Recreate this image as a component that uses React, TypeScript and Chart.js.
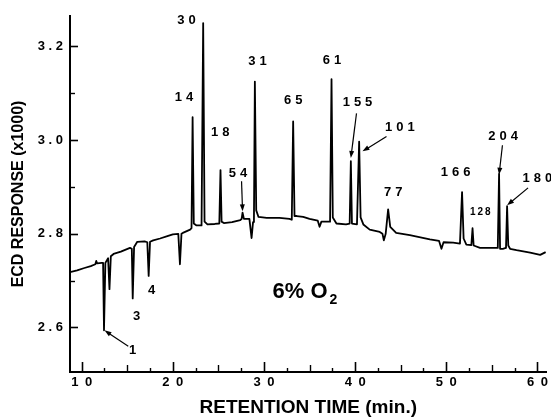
import { useEffect, useRef } from 'react';
import { Chart, registerables } from 'chart.js';

Chart.register(...registerables);

// Chromatogram trace
const retentionTime = [
  8.72, 9.5, 10.3, 11.0, 11.5, 11.6, 11.7, 12.2, 12.35, 12.45, 12.6, 12.9, 13.05, 13.2, 13.5, 14.3,
  15.3, 15.5, 15.6, 15.75, 16.1, 16.9, 17.2, 17.35, 17.5, 17.85, 18.6, 19.4, 20.0, 20.6, 20.78, 20.95,
  21.1, 21.9, 22.05, 22.17, 22.3, 22.6, 23.15, 23.33, 23.48, 23.8, 24.6, 25.1, 25.23, 25.35, 25.6,
  26.5, 27.4, 27.55, 27.65, 27.8, 28.4, 28.64, 28.8, 28.9, 29.0, 29.15, 29.4, 30.3, 31.7, 32.8, 33.05,
  33.2, 33.35, 33.6, 34.3, 35.0, 35.9, 36.1, 36.3, 36.9, 37.25, 37.41, 37.55, 37.95, 39.0, 39.4, 39.53,
  39.65, 40.2, 40.44, 40.6, 40.9, 41.6, 42.7, 43.0, 43.15, 43.35, 43.62, 43.85, 44.5, 46.0, 48.2, 49.2,
  49.47, 49.7, 50.75, 51.5, 51.73, 51.9, 52.2, 52.75, 52.88, 53.0, 53.7, 55.5, 55.65, 55.79, 55.9, 56.2,
  56.55, 56.67, 56.8, 57.0, 57.7, 59.2, 60.3, 60.9,
];
const ecdResponse = [
  2.718, 2.722, 2.727, 2.731, 2.735, 2.742, 2.737, 2.738, 2.738, 2.594, 2.738, 2.748, 2.682, 2.752, 2.757, 2.762,
  2.770, 2.768, 2.662, 2.772, 2.783, 2.784, 2.782, 2.71, 2.783, 2.786, 2.790, 2.795, 2.799, 2.800, 2.735, 2.800,
  2.802, 2.809, 2.812, 3.049, 2.822, 2.818, 2.818, 3.250, 2.826, 2.820, 2.821, 2.822, 2.936, 2.826, 2.823,
  2.825, 2.829, 2.832, 2.845, 2.832, 2.832, 2.791, 2.825, 2.830, 3.125, 2.850, 2.836, 2.834, 2.834, 2.832, 2.830,
  3.040, 2.838, 2.838, 2.836, 2.832, 2.828, 2.815, 2.826, 2.826, 2.826, 3.130, 2.835, 2.822, 2.820, 2.822, 2.955,
  2.822, 2.820, 2.997, 2.835, 2.820, 2.809, 2.804, 2.800, 2.786, 2.800, 2.852, 2.815, 2.802, 2.797, 2.788, 2.785,
  2.768, 2.782, 2.781, 2.779, 2.889, 2.790, 2.777, 2.776, 2.812, 2.775, 2.770, 2.770, 2.770, 2.928, 2.768, 2.768,
  2.770, 2.859, 2.775, 2.768, 2.765, 2.760, 2.755, 2.761,
];

// Axis ticks
const xTickValues = [10, 20, 30, 40, 50, 60];
const xMidTicks = [15, 25, 35, 45, 55];
const xMinorTicks = [12.5, 17.5, 22.5, 27.5, 32.5, 37.5, 42.5, 47.5, 52.5, 57.5];
const yTickValues = [2.6, 2.8, 3.0, 3.2];
const yMinorTicks = [2.7, 2.9, 3.1];

// Peak labels (data coordinates of label centres)
const peakLabels = ['30', '14', '18', '54', '31', '65', '61', '155', '101', '77', '166', '204', '180', '1', '3', '4'];
const peakLabelX = [21.51, 21.22, 25.2, 27.14, 29.28, 33.2, 37.45, 40.26, 44.9, 44.17, 51.02, 56.23, 59.98, 15.59, 16.03, 17.68];
const peakLabelY = [3.255, 3.091, 3.017, 2.928, 3.169, 3.084, 3.171, 3.08, 3.027, 2.889, 2.932, 3.008, 2.919, 2.55, 2.623, 2.68];
const smallLabels = ['128'];
const smallLabelX = [53.73];
const smallLabelY = [2.845];

// Arrows pointing to peaks: 1, 54, 155, 101, 204, 180
const arrowFromX = [15.11, 27.54, 40.15, 43.44, 56.16, 58.97];
const arrowFromY = [2.56, 2.912, 3.057, 3.008, 2.989, 2.898];
const arrowToX = [12.5, 27.65, 39.53, 40.81, 55.79, 56.67];
const arrowToY = [2.594, 2.848, 2.962, 2.976, 2.926, 2.861];

const conditionText = '6% O';
const conditionSub = '2';
const conditionX = 30.94;
const conditionY = 2.664;

const FONT = '"Liberation Sans", Arial, Helvetica, sans-serif';

const overlayPlugin = {
  id: 'overlay',
  afterDraw(chart: any) {
    const { ctx, chartArea } = chart;
    const xs = chart.scales.x;
    const ys = chart.scales.y;
    ctx.save();
    ctx.strokeStyle = '#000';
    ctx.fillStyle = '#000';
    ctx.lineCap = 'butt';

    // inward tick marks
    const bottom = chartArea.bottom;
    const left = chartArea.left;
    const drawX = (vals: number[], len: number, w: number) => {
      ctx.lineWidth = w;
      vals.forEach((v) => {
        const px = Math.round(xs.getPixelForValue(v)) + 0.5;
        ctx.beginPath();
        ctx.moveTo(px, bottom);
        ctx.lineTo(px, bottom - len);
        ctx.stroke();
      });
    };
    drawX(xTickValues, 10, 1.6);
    drawX(xMidTicks, 7, 1.4);
    drawX(xMinorTicks, 4, 1.4);
    const drawY = (vals: number[], len: number, w: number) => {
      ctx.lineWidth = w;
      vals.forEach((v) => {
        const py = Math.round(ys.getPixelForValue(v)) + 0.5;
        ctx.beginPath();
        ctx.moveTo(left, py);
        ctx.lineTo(left + len, py);
        ctx.stroke();
      });
    };
    drawY(yTickValues, 8, 1.6);
    drawY(yMinorTicks, 5, 1.4);

    // peak labels
    const drawSpaced = (t: string, cx: number, cy: number, font: string, spacing: number) => {
      ctx.font = font;
      (ctx as any).letterSpacing = spacing + 'px';
      const w = ctx.measureText(t).width - spacing;
      ctx.textAlign = 'left';
      ctx.textBaseline = 'middle';
      ctx.fillText(t, cx - w / 2, cy);
      (ctx as any).letterSpacing = '0px';
    };
    peakLabels.forEach((t, i) => {
      drawSpaced(t, xs.getPixelForValue(peakLabelX[i]), ys.getPixelForValue(peakLabelY[i]), `bold 13px ${FONT}`, 4);
    });
    smallLabels.forEach((t, i) => {
      drawSpaced(t, xs.getPixelForValue(smallLabelX[i]), ys.getPixelForValue(smallLabelY[i]), `bold 10px ${FONT}`, 2);
    });

    // arrows
    ctx.lineWidth = 1.2;
    arrowFromX.forEach((fx, i) => {
      const x1 = xs.getPixelForValue(fx);
      const y1 = ys.getPixelForValue(arrowFromY[i]);
      const x2 = xs.getPixelForValue(arrowToX[i]);
      const y2 = ys.getPixelForValue(arrowToY[i]);
      const ang = Math.atan2(y2 - y1, x2 - x1);
      const hl = 7;
      const hw = 2.5;
      ctx.beginPath();
      ctx.moveTo(x1, y1);
      ctx.lineTo(x2 - Math.cos(ang) * hl * 0.8, y2 - Math.sin(ang) * hl * 0.8);
      ctx.stroke();
      ctx.beginPath();
      ctx.moveTo(x2, y2);
      ctx.lineTo(x2 - Math.cos(ang) * hl - Math.sin(ang) * hw, y2 - Math.sin(ang) * hl + Math.cos(ang) * hw);
      ctx.lineTo(x2 - Math.cos(ang) * hl + Math.sin(ang) * hw, y2 - Math.sin(ang) * hl - Math.cos(ang) * hw);
      ctx.closePath();
      ctx.fill();
    });

    // condition text
    const cx = xs.getPixelForValue(conditionX);
    const cy = ys.getPixelForValue(conditionY);
    ctx.font = `bold 22px ${FONT}`;
    ctx.textAlign = 'left';
    ctx.textBaseline = 'alphabetic';
    ctx.fillText(conditionText, cx, cy);
    const w = ctx.measureText(conditionText).width;
    ctx.font = `bold 14px ${FONT}`;
    ctx.fillText(conditionSub, cx + w + 2, cy + 6.5);

    ctx.restore();
  },
};

export default function App() {
  const canvasRef = useRef<HTMLCanvasElement | null>(null);

  useEffect(() => {
    document.body.style.margin = '0';
    const canvas = canvasRef.current;
    if (!canvas) return;
    Chart.defaults.font.family = FONT;
    Chart.defaults.color = '#000';
    const chart = new Chart(canvas, {
      type: 'line',
      data: {
        datasets: [
          {
            label: 'ECD response',
            data: retentionTime.map((t, i) => ({ x: t, y: ecdResponse[i] })),
            borderColor: '#000',
            borderWidth: 1.8,
            borderJoinStyle: 'round',
            pointRadius: 0,
            tension: 0,
            fill: false,
          },
        ],
      },
      options: {
        animation: false,
        responsive: false,
        devicePixelRatio: 1,
        layout: { padding: { top: 16, right: 4, left: 0, bottom: 0 } },
        plugins: {
          legend: { display: false },
          tooltip: { enabled: false },
        },
        scales: {
          x: {
            type: 'linear',
            min: 8.72,
            max: 61,
            afterBuildTicks: (scale: any) => {
              scale.ticks = xTickValues.map((value) => ({ value }));
            },
            afterFit: (scale: any) => {
              scale.height = 48;
            },
            grid: { display: false, drawTicks: false },
            border: { display: true, color: '#000', width: 2 },
            ticks: {
              padding: 3,
              color: '#000',
              font: { size: 13, weight: 'bold' },
              maxRotation: 0,
              callback: (v: any) => String(v).split('').join('\u2002'),
            },
            title: {
              display: true,
              text: 'RETENTION TIME (min.)',
              color: '#000',
              font: { size: 19, weight: 'bold' },
              padding: { top: 0, bottom: 1 },
            },
          },
          y: {
            type: 'linear',
            min: 2.505,
            max: 3.265,
            afterBuildTicks: (scale: any) => {
              scale.ticks = yTickValues.map((value) => ({ value }));
            },
            afterFit: (scale: any) => {
              scale.width = 70;
            },
            grid: { display: false, drawTicks: false },
            border: { display: true, color: '#000', width: 2 },
            ticks: {
              padding: 7,
              color: '#000',
              font: { size: 13, weight: 'bold' },
              callback: (v: any) => Number(v).toFixed(1).split('').join(' '),
            },
            title: {
              display: true,
              text: 'ECD RESPONSE (x1000)',
              color: '#000',
              font: { size: 16, weight: 'bold' },
              padding: { top: 9, bottom: 0 },
            },
          },
        },
      },
      plugins: [overlayPlugin],
    } as any);
    return () => chart.destroy();
  }, []);

  return <canvas ref={canvasRef} width={551} height={420} style={{ display: 'block', width: 551, height: 420 }} />;
}
